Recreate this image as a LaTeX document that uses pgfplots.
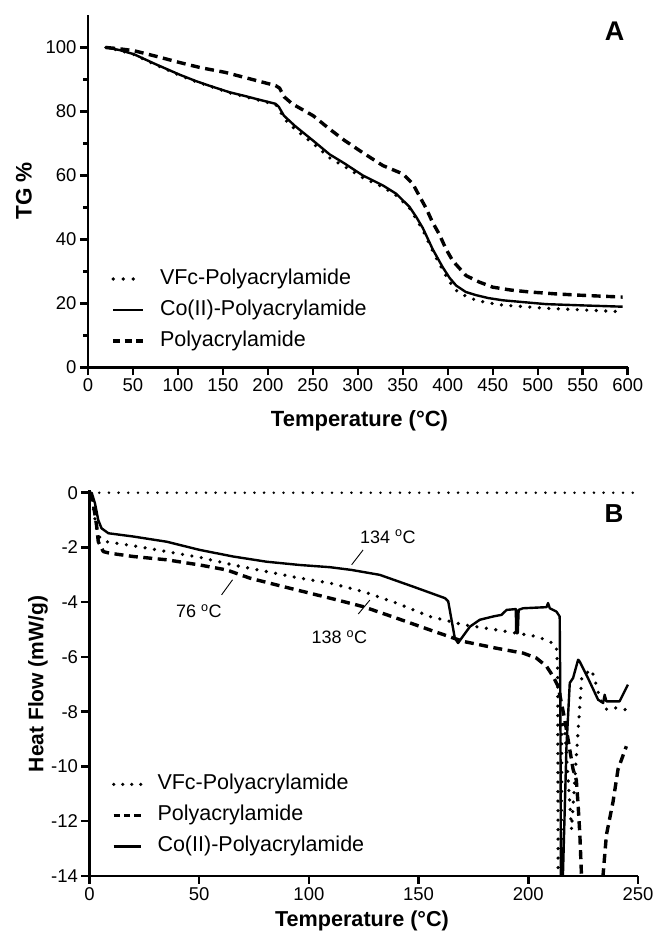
\documentclass[border=0pt]{standalone}
\usepackage{fontspec}
\setmainfont{Liberation Sans}
\usepackage{pgfplots}
\pgfplotsset{compat=1.18}
\newcommand\fs[1]{\fontsize{#1}{#1}\selectfont}
\tikzset{
  dotS/.style={line width=3.6pt, line cap=round, dash pattern=on 0pt off 9.5pt},
  dashS/.style={line width=3.4pt, dash pattern=on 9pt off 5.5pt},
  solidS/.style={line width=2.4pt},
}
\pgfplotsset{
  myaxis/.style={
    scale only axis, enlargelimits=false,
    axis x line=bottom, axis y line=left,
    axis line style={-, line width=2.6pt},
    every tick/.style={black, line width=2.5pt},
    tick align=outside, major tick length=8pt, minor tick length=4.5pt,
    tick label style={font=\fs{18.5}},
    /pgf/number format/assume math mode=true,
    clip mode=individual,
    legend cell align=left,
    every axis plot/.append style={line join=round},
  }
}
\begin{document}
\begin{tikzpicture}[x=1pt,y=1pt]
\path[use as bounding box] (0,0) rectangle (654,934);

% ---------------- Panel A ----------------
\begin{axis}[myaxis,
  at={(88pt,566.5pt)}, anchor=south west,
  width=539.7pt, height=352pt,
  xmin=0, xmax=600, ymin=0, ymax=110,
  xtick={0,50,...,600}, ytick={0,20,...,100},
  minor ytick={10,30,...,90},
  legend style={at={(0.043,0.296)}, anchor=north west, draw=none, fill=none,
    font=\fs{21.5}, inner sep=0pt, row sep=0pt,
    nodes={inner xsep=0pt, inner ysep=5pt, text height=16pt, text depth=5pt},
    /tikz/every odd column/.append style={column sep=15pt}},
  legend image code/.code={\draw[#1] (0pt,0pt) -- (30pt,0pt);},
]
\addlegendimage{line width=3.6pt, line cap=round, dash pattern=on 0pt off 10pt}
\addlegendentry{VFc-Polyacrylamide}
\addlegendimage{solidS}
\addlegendentry{Co(II)-Polyacrylamide}
\addlegendimage{line width=3.4pt, dash pattern=on 7pt off 4.5pt}
\addlegendentry{Polyacrylamide}
\addplot[dotS, forget plot] coordinates {
(20,100) (35,99.1) (51,97.8) (75,94.6) (101.9,91.3) (120,89.3) (134.4,88.0)
(157.5,85.8) (175,84.6) (190,83.5) (208.5,82.2) (212,81.0) (217.8,77.8)
(230,74.5) (250.2,70.0) (268.6,65.5) (285,62.8) (305.6,59.3) (327.8,56.4)
(342.6,53.8) (357.4,49.8) (372.2,43.0) (383.3,36.3) (394.4,30.4) (402,26.8)
(409.3,24.1) (420,22.3) (431.5,21.0) (445,20.2) (461.1,19.5) (485,19.0)
(509.3,18.5) (550,18.0) (594.4,17.4)};
\addplot[solidS, forget plot] coordinates {
(20,100) (35,99.2) (51,97.9) (75,94.8) (101.9,91.5) (120,89.5) (134.4,88.1)
(157.5,86.0) (175,84.8) (190,83.7) (208.5,82.4) (212,81.5) (217.8,78.7)
(230,75.5) (250.2,70.9) (268.6,66.6) (285,63.8) (305.6,60.0) (327.8,56.9)
(342.6,54.3) (357.4,50.2) (365,47.0) (372.2,43.6) (383.3,36.9) (394.4,31.3)
(402,28.0) (409.3,25.6) (420,23.6) (431.5,22.6) (445,21.7) (461.1,21.0)
(485,20.4) (509.3,19.8) (550,19.4) (594.4,19.0)};
\addplot[dashS, forget plot] coordinates {
(20,100) (35,99.6) (51,99.0) (75,97.3) (101.9,95.3) (125,93.7) (152.9,92.2)
(180,90.2) (208.5,88.1) (213,87.3) (218,84.6) (227,82.4) (250.2,78.7)
(268.6,74.5) (285,71.0) (305.6,67.1) (327.8,63.1) (350,60.5) (361.1,57.4)
(368,53.8) (376,49.7) (383,45.4) (390.8,41.5) (398,37.0) (405.6,33.3)
(420.4,28.7) (435,26.7) (450,25.1) (470,24.2) (490.8,23.6) (520,23.0)
(546.3,22.6) (570,22.3) (594.4,22.0)};
\end{axis}

% ---------------- Panel B ----------------
\begin{axis}[myaxis,
  at={(89.5pt,58pt)}, anchor=south west,
  width=548.5pt, height=386pt,
  xmin=0, xmax=250, ymin=-14, ymax=0.1,
  xtick={0,50,...,250}, ytick={-14,-12,...,0},
  legend style={at={(0.0405,0.278)}, anchor=north west, draw=none, fill=none,
    font=\fs{21.5}, inner sep=0pt, row sep=0pt,
    nodes={inner xsep=0pt, inner ysep=5pt, text height=16pt, text depth=5pt},
    /tikz/every odd column/.append style={column sep=15pt}},
  legend image code/.code={\draw[#1] (0pt,0pt) -- (27pt,0pt);},
]
\addlegendimage{line width=3.6pt, line cap=round, dash pattern=on 0pt off 9pt}
\addlegendentry{VFc-Polyacrylamide}
\addlegendimage{line width=3.4pt, dash pattern=on 6.3pt off 4.05pt}
\addlegendentry{Polyacrylamide}
\addlegendimage{solidS}
\addlegendentry{Co(II)-Polyacrylamide}
\addplot[forget plot, line width=2.8pt, line cap=round, dash pattern=on 0pt off 9.7pt]
  coordinates {(0,0) (250,0)};
\addplot[dotS, forget plot] coordinates {
(0,0) (1,0) (1.7,-0.51) (3.0,-1.24) (4.8,-1.66) (7.8,-1.79) (20,-1.94)
(35.2,-2.15) (50.3,-2.36) (65.5,-2.64) (80.7,-2.88) (95.9,-3.12) (109.6,-3.30)
(124.7,-3.61) (139.9,-4.03) (155.1,-4.52) (170.3,-4.82) (185.5,-5.01)
(194.6,-5.13) (203.7,-5.25) (209.7,-5.43) (212.8,-5.61) (213.4,-6.5)
(213.6,-14.5) (215.0,-14.5) (215.3,-8.3) (216.6,-8.65) (219.7,-12.3)
(222,-9.5) (224.4,-6.71) (228.8,-6.46) (230.3,-6.83) (232.8,-7.56)
(235.8,-7.92) (239.7,-7.86) (244.2,-7.92)};
\addplot[dashS, forget plot] coordinates {
(0,0) (1.5,-0.3) (2.5,-0.8) (3.3,-1.24) (4.0,-1.79) (6.3,-2.15) (9.3,-2.21)
(20,-2.33) (35.2,-2.45) (50.3,-2.64) (62.5,-2.82) (73.1,-3.12) (88.3,-3.43)
(103.5,-3.73) (109.6,-3.85) (124.7,-4.16) (139.9,-4.58) (155.1,-5.01)
(170.3,-5.43) (185.5,-5.68) (197.7,-5.86) (203.7,-6.04) (208.3,-6.34)
(211.3,-6.71) (213.6,-7.07) (215.1,-7.68) (216.6,-8.28) (220.4,-10.1)
(221.9,-10.5) (222.7,-11.4) (223.5,-12.5) (224.2,-13.9) (226,-16)
(229,-17.5) (232,-16) (234.1,-13.94) (235.6,-12.5) (238.6,-11.3)
(240.9,-10.1) (244.7,-9.26)};
\addplot[solidS, forget plot] coordinates {
(0,0) (1,0) (2.5,-0.39) (4.0,-1.0) (5.5,-1.30) (8.6,-1.48) (20,-1.60)
(35.2,-1.79) (50.3,-2.09) (65.5,-2.33) (80.7,-2.52) (95.9,-2.64)
(109.6,-2.72) (119.4,-2.82) (132.3,-3.0) (147.5,-3.43) (162,-3.85)
(163.5,-3.97) (165,-4.64) (166.5,-5.31) (168,-5.49) (169.6,-5.31)
(173.4,-4.89) (177.9,-4.64) (184,-4.52) (187.8,-4.46) (190.1,-4.28)
(194.3,-4.25) (194.5,-5.13) (195.2,-5.13) (195.6,-4.28) (197.6,-4.22)
(208.3,-4.18) (209,-4.03) (209.8,-4.22) (212.8,-4.34) (214.3,-4.52)
(214.6,-7.5) (214.9,-14.5) (215.6,-14.5) (217.4,-9.26) (218.9,-6.95)
(220.4,-6.77) (222.7,-6.10) (223.4,-6.16) (227.2,-6.77) (231.8,-7.56)
(234.1,-7.68) (234.8,-7.38) (235.6,-7.62) (241.6,-7.62) (245.4,-7.01)};
% annotations
\node[font=\fs{18}] at (axis cs:136,-1.61) {134 \textsuperscript{o}C};
\draw[line width=0.9pt] (axis cs:124.7,-2.09) -- (axis cs:119.5,-2.63);
\node[font=\fs{18}] at (axis cs:49.9,-4.34) {76 \textsuperscript{o}C};
\draw[line width=0.9pt] (axis cs:60.2,-3.73) -- (axis cs:65.2,-3.18);
\node[font=\fs{18}] at (axis cs:113.9,-5.27) {138 \textsuperscript{o}C};
\draw[line width=0.9pt] (axis cs:127.8,-3.92) -- (axis cs:122.5,-4.43);
\end{axis}

% labels
\node[font=\fs{27}\bfseries] at (614.5,902.3) {A};
\node[font=\fs{26}\bfseries] at (614,420) {B};
\node[font=\fs{22}\bfseries, anchor=base] at (359.5,507.3) {Temperature (°C)};
\node[font=\fs{21.6}\bfseries, anchor=base] at (362,7.3) {Temperature (°C)};
\node[font=\fs{22.5}\bfseries, anchor=base, rotate=90] at (31.7,743.2) {TG \%};
\node[font=\fs{21}\bfseries, anchor=base, rotate=90] at (43.3,250) {Heat Flow (mW/g)};
\end{tikzpicture}
\end{document}
